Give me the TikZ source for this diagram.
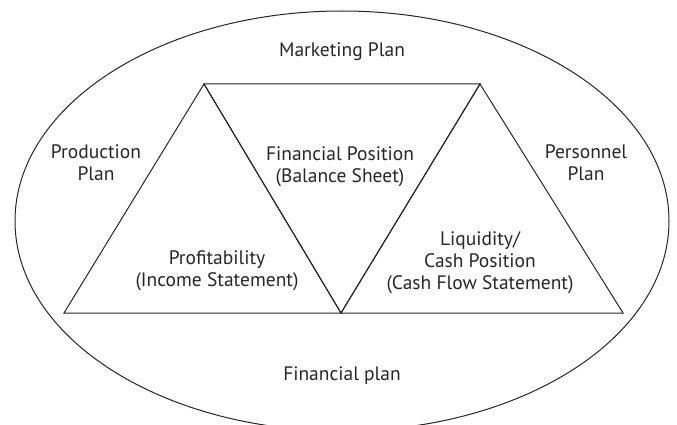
\documentclass[tikz,border=0pt]{standalone}
\usepackage{fontspec}
\setmainfont{PT Sans}
\usetikzlibrary{shapes.geometric}
\begin{document}
\begin{tikzpicture}[x=1pt,y=-1pt,
  line/.style={draw=black!85,line width=1pt,line join=miter},
  lbl/.style={inner sep=0pt,align=center,font=\fontsize{19.5}{22}\selectfont,text=black!85}]
\useasboundingbox (0,0) rectangle (677,425);
\begin{scope}
\clip (0,0) rectangle (677,425);
\node[line,ellipse,minimum width=654,minimum height=420,inner sep=0pt] (plan) at (342,221) {};
\end{scope}
% triangle vertices
\coordinate (bl) at (64,313);
\coordinate (tl) at (204,84);
\coordinate (bm) at (341,313);
\coordinate (tr) at (480,84);
\coordinate (br) at (623,313);
\draw[line] (bl) -- (tl) -- (bm) -- cycle;
\draw[line] (tl) -- (tr) -- (bm) -- cycle;
\draw[line] (bm) -- (tr) -- (br) -- cycle;
% labels
\node[lbl] (mkt) at (342,52) {Marketing Plan};
\node[lbl] (prod) at (96,163) {Production\\Plan};
\node[lbl] (pers) at (586,163) {Personnel\\Plan};
\node[lbl] (fpos) at (340,167) {Financial Position\\(Balance Sheet)};
\node[lbl] (prof) at (217,271) {Profitability\\(Income Statement)};
\node[lbl] (liq) at (480,263) {Liquidity/\\Cash Position\\(Cash Flow Statement)};
\node[lbl] (fin) at (342,376) {Financial plan};
\end{tikzpicture}
\end{document}
